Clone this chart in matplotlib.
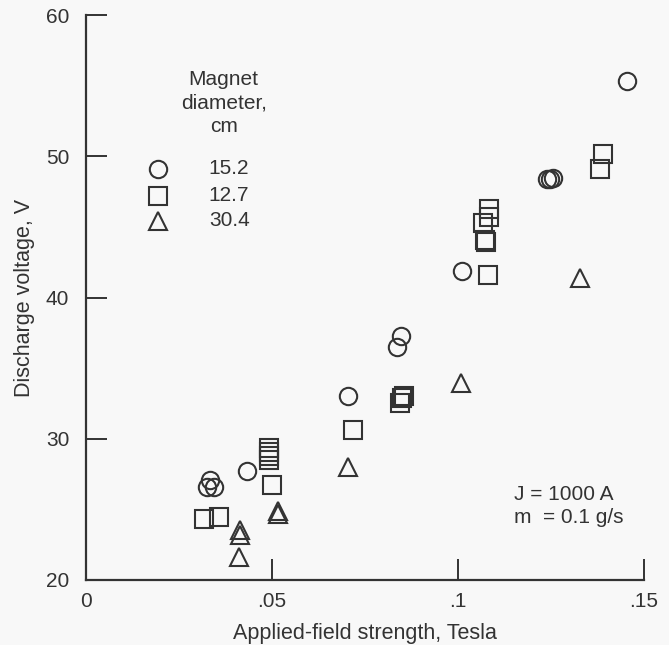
import matplotlib
matplotlib.use("Agg")
import matplotlib.pyplot as plt

plt.rcParams["font.family"] = ["Liberation Sans", "DejaVu Sans"]

# magnet diameter 15.2 cm (circles)
x_152 = [0.1455, 0.1238, 0.1247, 0.1256, 0.1011, 0.0847, 0.0836, 0.0704,
         0.0333, 0.0325, 0.0344, 0.0434]
y_152 = [55.3, 48.4, 48.4, 48.45, 41.9, 37.3, 36.5, 33.0,
         27.05, 26.6, 26.6, 27.75]

# magnet diameter 12.7 cm (squares)
x_127 = [0.1389, 0.1382, 0.1083, 0.1083, 0.1067, 0.1073, 0.1075, 0.1081,
         0.0849, 0.0855, 0.0844, 0.0719, 0.0493, 0.0493, 0.0493, 0.0493,
         0.0499, 0.0318, 0.0358]
y_127 = [50.15, 49.1, 46.25, 45.7, 45.25, 44.1, 43.9, 41.6,
         32.9, 33.0, 32.55, 30.6, 29.35, 29.05, 28.8, 28.5,
         26.75, 24.3, 24.45]

# magnet diameter 30.4 cm (triangles)
x_304 = [0.1328, 0.1007, 0.0704, 0.0517, 0.0517, 0.0414, 0.0414, 0.0412]
y_304 = [41.4, 33.95, 28.0, 24.9, 24.7, 23.55, 23.2, 21.6]

legend_labels = ["15.2", "12.7", "30.4"]

ink = "#333333"
bg = "#f8f8f8"
fs = 15

fig = plt.figure(figsize=(6.69, 6.45), dpi=100, facecolor=bg)
ax = fig.add_axes([0.1286, 0.1008, 0.834, 0.8759], facecolor=bg)

mk = dict(linestyle="none", markerfacecolor="none",
          markeredgecolor=ink, markeredgewidth=1.5)
sizes = {"o": 12.5, "s": 12.5, "^": 13.5}
ax.plot(x_152, y_152, marker="o", markersize=sizes["o"], **mk)
ax.plot(x_127, y_127, marker="s", markersize=sizes["s"], **mk)
ax.plot(x_304, y_304, marker="^", markersize=sizes["^"], **mk)

ax.set_xlim(0, 0.15)
ax.set_ylim(20, 60)
ax.set_xticks([0, 0.05, 0.1, 0.15])
ax.set_xticklabels(["0", ".05", ".1", ".15"])
ax.set_yticks([20, 30, 40, 50, 60])
ax.tick_params(axis="both", direction="in", length=15, width=1.4,
               colors=ink, labelsize=fs)
ax.tick_params(axis="y", pad=12)
ax.tick_params(axis="x", pad=9)
ax.spines["top"].set_visible(False)
ax.spines["right"].set_visible(False)
for s in ("left", "bottom"):
    ax.spines[s].set_linewidth(1.6)
    ax.spines[s].set_color(ink)

ax.set_xlabel("Applied-field strength, Tesla", fontsize=fs + 0.5, color=ink,
              labelpad=8)
ax.set_ylabel("Discharge voltage, V", fontsize=fs + 0.5, color=ink, labelpad=8)

# legend drawn as text block
ax.text(0.0370, 53.8, "Magnet\ndiameter,\ncm", ha="center", va="center",
        fontsize=fs, color=ink, linespacing=1.3)
leg_markers = ["o", "s", "^"]
leg_y = [49.1, 47.2, 45.45]
for m, yy, lab in zip(leg_markers, leg_y, legend_labels):
    ax.plot([0.0194], [yy], marker=m, markersize=sizes[m], **mk)
    ax.text(0.0330, yy, lab, ha="left", va="center", fontsize=fs, color=ink)

ax.text(0.1151, 25.25, "J = 1000 A\nm  = 0.1 g/s", ha="left", va="center",
        fontsize=fs, color=ink, linespacing=1.3)

fig.savefig("out.png", dpi=100, facecolor=bg)
